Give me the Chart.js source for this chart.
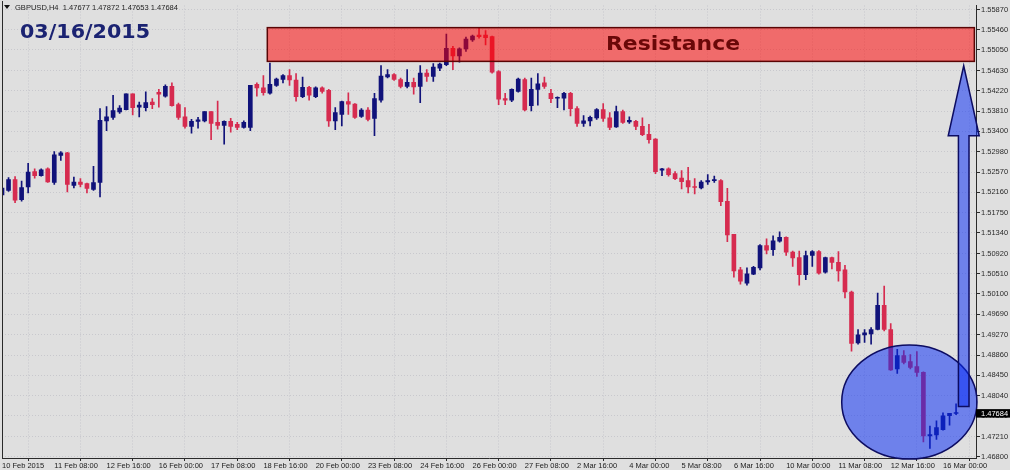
<!DOCTYPE html>
<html>
<head>
<meta charset="utf-8">
<title>GBPUSD H4</title>
<script src="https://cdn.jsdelivr.net/npm/chart.js@4.4.1/dist/chart.umd.min.js"></script>
<style>
    html, body { margin: 0; padding: 0; background: #dfdfdf; }
    #wrap { width: 1010px; height: 470px; }
</style>
</head>
<body>
<div id="wrap"><canvas id="priceChart" width="1010" height="470"></canvas></div>
<script>
        // GBPUSD H4 candles, 10 Feb 2015 00:00 -> 16 Mar 2015 08:00
        const symbolName = 'GBPUSD,H4';
        const chartDate = '03/16/2015';
        const zoneLabel = 'Resistance';

        const opens = [
            1.5211, 1.5220, 1.5242, 1.5201, 1.5227, 1.5258, 1.5250, 1.5264, 1.5236, 1.5291,
            1.5296, 1.5230, 1.5237, 1.5234, 1.5222, 1.5236, 1.5361, 1.5368, 1.5379, 1.5384,
            1.5416, 1.5389, 1.5388, 1.5399, 1.5419, 1.5411, 1.5431, 1.5394, 1.5369, 1.5350,
            1.5360, 1.5361, 1.5380, 1.5358, 1.5352, 1.5360, 1.5354, 1.5348, 1.5348, 1.5435,
            1.5428, 1.5417, 1.5433, 1.5445, 1.5453, 1.5444, 1.5410, 1.5429, 1.5410, 1.5428,
            1.5423, 1.5361, 1.5374, 1.5400, 1.5395, 1.5370, 1.5383, 1.5366, 1.5403, 1.5450,
            1.5455, 1.5445, 1.5431, 1.5439, 1.5431, 1.5458, 1.5451, 1.5468, 1.5475, 1.5508,
            1.5493, 1.5507, 1.5525, 1.5535, 1.5535, 1.5532, 1.5461, 1.5406, 1.5403, 1.5421,
            1.5445, 1.5392, 1.5425, 1.5438, 1.5417, 1.5407, 1.5407, 1.5417, 1.5386, 1.5356,
            1.5361, 1.5367, 1.5384, 1.5367, 1.5349, 1.5380, 1.5359, 1.5360, 1.5350, 1.5334,
            1.5324, 1.5261, 1.5264, 1.5254, 1.5245, 1.5240, 1.5228, 1.5225, 1.5237, 1.5240,
            1.5240, 1.5198, 1.5131, 1.5059, 1.5032, 1.5050, 1.5063, 1.5108, 1.5100, 1.5117,
            1.5125, 1.5095, 1.5084, 1.5049, 1.5088, 1.5096, 1.5054, 1.5084, 1.5074, 1.5059,
            1.5014, 1.4911, 1.4927, 1.4929, 1.4938, 1.4987, 1.4938, 1.4858, 1.4885, 1.4873,
            1.4863, 1.4851, 1.4722, 1.4724, 1.4735, 1.4763, 1.47677
        ];

        const highs = [
            1.5227, 1.5246, 1.5248, 1.5239, 1.5275, 1.5264, 1.5264, 1.5266, 1.5299, 1.5299,
            1.5297, 1.5247, 1.5244, 1.5235, 1.5269, 1.5386, 1.5390, 1.5413, 1.5392, 1.5416,
            1.5416, 1.5399, 1.5420, 1.5406, 1.5425, 1.5434, 1.5438, 1.5397, 1.5388, 1.5364,
            1.5368, 1.5380, 1.5380, 1.5401, 1.5361, 1.5366, 1.5358, 1.5361, 1.5433, 1.5438,
            1.5453, 1.5478, 1.5448, 1.5455, 1.5465, 1.5457, 1.5450, 1.5431, 1.5430, 1.5430,
            1.5425, 1.5388, 1.5401, 1.5418, 1.5396, 1.5386, 1.5388, 1.5417, 1.5473, 1.5465,
            1.5457, 1.5448, 1.5465, 1.5448, 1.5473, 1.5465, 1.5477, 1.5478, 1.5537, 1.5512,
            1.5509, 1.5531, 1.5535, 1.5549, 1.5544, 1.5533, 1.5463, 1.5417, 1.5426, 1.5448,
            1.5448, 1.5448, 1.5457, 1.5450, 1.5425, 1.5410, 1.5419, 1.5419, 1.5390, 1.5372,
            1.5371, 1.5386, 1.5396, 1.5378, 1.5391, 1.5383, 1.5369, 1.5362, 1.5367, 1.5354,
            1.5325, 1.5265, 1.5266, 1.5258, 1.5260, 1.5267, 1.5244, 1.5240, 1.5252, 1.5249,
            1.5242, 1.5224, 1.5131, 1.5064, 1.5063, 1.5066, 1.5110, 1.5122, 1.5128, 1.5136,
            1.5126, 1.5097, 1.5097, 1.5097, 1.5098, 1.5098, 1.5085, 1.5085, 1.5096, 1.5068,
            1.5016, 1.4938, 1.4938, 1.4942, 1.5012, 1.5026, 1.4950, 1.4898, 1.4895, 1.4887,
            1.4893, 1.4852, 1.4742, 1.4753, 1.4769, 1.4768, 1.47872
        ];

        const lows = [
            1.5210, 1.5218, 1.5195, 1.5198, 1.5215, 1.5245, 1.5249, 1.5236, 1.5232, 1.5281,
            1.5217, 1.5225, 1.5227, 1.5215, 1.5220, 1.5207, 1.5341, 1.5364, 1.5376, 1.5383,
            1.5373, 1.5369, 1.5381, 1.5386, 1.5389, 1.5409, 1.5391, 1.5364, 1.5346, 1.5336,
            1.5346, 1.5359, 1.5323, 1.5344, 1.5314, 1.5338, 1.5343, 1.5346, 1.5341, 1.5411,
            1.5413, 1.5415, 1.5431, 1.5438, 1.5433, 1.5401, 1.5408, 1.5403, 1.5408, 1.5417,
            1.5350, 1.5343, 1.5351, 1.5374, 1.5366, 1.5368, 1.5361, 1.5331, 1.5399, 1.5448,
            1.5443, 1.5428, 1.5428, 1.5415, 1.5398, 1.5441, 1.5441, 1.5463, 1.5473, 1.5465,
            1.5480, 1.5502, 1.5522, 1.5529, 1.5515, 1.5458, 1.5394, 1.5394, 1.5400, 1.5419,
            1.5381, 1.5381, 1.5393, 1.5427, 1.5398, 1.5388, 1.5383, 1.5371, 1.5350, 1.5350,
            1.5351, 1.5364, 1.5360, 1.5343, 1.5348, 1.5356, 1.5356, 1.5343, 1.5331, 1.5316,
            1.5254, 1.5250, 1.5249, 1.5242, 1.5223, 1.5215, 1.5213, 1.5223, 1.5232, 1.5236,
            1.5189, 1.5116, 1.5044, 1.5030, 1.5028, 1.5049, 1.5059, 1.5091, 1.5088, 1.5115,
            1.5088, 1.5066, 1.5028, 1.5039, 1.5066, 1.5050, 1.5052, 1.5061, 1.5036, 1.5002,
            1.4894, 1.4908, 1.4912, 1.4908, 1.4937, 1.4935, 1.4855, 1.4849, 1.4868, 1.4858,
            1.4843, 1.4710, 1.4697, 1.4715, 1.4734, 1.4744, 1.47653
        ];

        const closes = [
            1.5225, 1.5242, 1.5200, 1.5226, 1.5257, 1.5250, 1.5262, 1.5237, 1.5292, 1.5296,
            1.5232, 1.5237, 1.5232, 1.5224, 1.5236, 1.5362, 1.5369, 1.5382, 1.5387, 1.5416,
            1.5388, 1.5393, 1.5398, 1.5394, 1.5415, 1.5431, 1.5392, 1.5368, 1.5350, 1.5360,
            1.5363, 1.5380, 1.5356, 1.5352, 1.5360, 1.5350, 1.5348, 1.5358, 1.5433, 1.5428,
            1.5418, 1.5435, 1.5446, 1.5453, 1.5444, 1.5410, 1.5429, 1.5413, 1.5428, 1.5421,
            1.5361, 1.5378, 1.5400, 1.5395, 1.5368, 1.5383, 1.5364, 1.5406, 1.5452, 1.5455,
            1.5445, 1.5431, 1.5439, 1.5430, 1.5458, 1.5451, 1.5470, 1.5476, 1.5508, 1.5493,
            1.5507, 1.5527, 1.5533, 1.5532, 1.5530, 1.5460, 1.5405, 1.5403, 1.5425, 1.5446,
            1.5383, 1.5425, 1.5436, 1.5431, 1.5406, 1.5409, 1.5417, 1.5386, 1.5356, 1.5361,
            1.5368, 1.5384, 1.5366, 1.5348, 1.5380, 1.5358, 1.5362, 1.5350, 1.5333, 1.5323,
            1.5258, 1.5264, 1.5252, 1.5244, 1.5238, 1.5227, 1.5226, 1.5237, 1.5240, 1.5242,
            1.5197, 1.5130, 1.5057, 1.5036, 1.5051, 1.5064, 1.5108, 1.5099, 1.5118, 1.5125,
            1.5095, 1.5083, 1.5049, 1.5088, 1.5096, 1.5052, 1.5084, 1.5074, 1.5057, 1.5014,
            1.4910, 1.4927, 1.4931, 1.4938, 1.4987, 1.4938, 1.4856, 1.4885, 1.4871, 1.4861,
            1.4851, 1.4722, 1.4725, 1.4739, 1.4763, 1.4768, 1.47684
        ];

        // time axis: one label every 8 bars
        const timeLabels = [
            '10 Feb 2015', '11 Feb 08:00', '12 Feb 16:00', '16 Feb 00:00', '17 Feb 08:00',
            '18 Feb 16:00', '20 Feb 00:00', '23 Feb 08:00', '24 Feb 16:00', '26 Feb 00:00',
            '27 Feb 08:00', '2 Mar 16:00', '4 Mar 00:00', '5 Mar 08:00', '6 Mar 16:00',
            '10 Mar 00:00', '11 Mar 08:00', '12 Mar 16:00', '16 Mar 00:00'
        ];
        const barsPerLabel = 8;

        const priceTicks = [
            1.5587, 1.5546, 1.5505, 1.5463, 1.5422, 1.5381, 1.5340, 1.5298, 1.5257, 1.5216,
            1.5175, 1.5134, 1.5092, 1.5051, 1.5010, 1.4969, 1.4927, 1.4886, 1.4845, 1.4804,
            1.4763, 1.4721, 1.4680
        ];

        // Colores
        const bullColor = '#10127a';
        const bearColor = '#d62b4f';
        const gridColor = 'rgba(150, 150, 165, 0.3)';
        const axisColor = '#2a2a2a';
        const tickFont = { family: '"Liberation Sans", Arial, sans-serif', size: 7.5 };

        const candleColors = closes.map((c, i) => c >= opens[i] ? bullColor : bearColor);
        const bodyData = opens.map((o, i) => ({ x: i, y: [o, closes[i]] }));
        const wickData = lows.map((l, i) => ({ x: i, y: [l, highs[i]] }));
        const last = closes.length - 1;

        function fitText(ctx, text, x, baseline, width, font, color) {
            ctx.save();
            ctx.font = font;
            const w = ctx.measureText(text).width;
            ctx.translate(x, baseline);
            ctx.scale(width / w, 1);
            ctx.fillStyle = color;
            ctx.textAlign = 'left';
            ctx.textBaseline = 'alphabetic';
            ctx.fillText(text, 0, 0);
            ctx.restore();
        }

        // fondo, marco, zona, elipse, flecha y textos
        const overlayPlugin = {
            id: 'overlays',
            beforeDraw(chart) {
                const ctx = chart.ctx;
                ctx.save();
                ctx.fillStyle = '#dfdfdf';
                ctx.fillRect(0, 0, chart.width, chart.height);
                ctx.restore();
            },
            afterDraw(chart) {
                const ctx = chart.ctx;
                const xs = chart.scales.x;
                const ys = chart.scales.y;
                const area = chart.chartArea;

                ctx.save();
                // left frame
                ctx.strokeStyle = axisColor;
                ctx.lineWidth = 1;
                ctx.beginPath();
                ctx.moveTo(area.left + 0.5, 1);
                ctx.lineTo(area.left + 0.5, area.bottom);
                ctx.stroke();

                // resistance zone
                const zx1 = xs.getPixelForValue(40.6);
                const zx2 = xs.getPixelForValue(148.8);
                const zy1 = ys.getPixelForValue(1.55501);
                const zy2 = ys.getPixelForValue(1.54817);
                ctx.fillStyle = 'rgba(255, 0, 0, 0.52)';
                ctx.fillRect(zx1, zy1, zx2 - zx1, zy2 - zy1);
                ctx.strokeStyle = '#5a0505';
                ctx.lineWidth = 1.5;
                ctx.strokeRect(zx1, zy1, zx2 - zx1, zy2 - zy1);
                fitText(ctx, zoneLabel, 606, 49.5, 134, 'bold 20px "DejaVu Sans"', '#6a0808');

                // ellipse round the last bars
                const ex1 = xs.getPixelForValue(128.5);
                const ex2 = xs.getPixelForValue(149.2);
                const ey1 = ys.getPixelForValue(1.49067);
                const ey2 = ys.getPixelForValue(1.46753);
                ctx.beginPath();
                ctx.ellipse((ex1 + ex2) / 2, (ey1 + ey2) / 2, (ex2 - ex1) / 2, (ey2 - ey1) / 2, 0, 0, Math.PI * 2);
                ctx.fillStyle = 'rgba(10, 45, 245, 0.53)';
                ctx.fill();
                ctx.strokeStyle = '#0c0c62';
                ctx.lineWidth = 1.5;
                ctx.stroke();

                // arrow up to the zone
                const ax = xs.getPixelForValue(147.17);
                const aBottom = ys.getPixelForValue(1.47819);
                const aBase = ys.getPixelForValue(1.53308);
                const aTip = ys.getPixelForValue(1.54728);
                const sw = 5.3, hw = 15.5;
                ctx.beginPath();
                ctx.moveTo(ax - sw, aBottom);
                ctx.lineTo(ax - sw, aBase);
                ctx.lineTo(ax - hw, aBase);
                ctx.lineTo(ax, aTip);
                ctx.lineTo(ax + hw, aBase);
                ctx.lineTo(ax + sw, aBase);
                ctx.lineTo(ax + sw, aBottom);
                ctx.closePath();
                ctx.fillStyle = 'rgba(10, 45, 245, 0.53)';
                ctx.fill();
                ctx.strokeStyle = '#0c0c62';
                ctx.lineWidth = 1.5;
                ctx.stroke();

                // last price tag
                const py = ys.getPixelForValue(closes[last]);
                ctx.fillStyle = '#000000';
                ctx.fillRect(area.right, py - 4, chart.width - area.right, 8.5);
                ctx.fillStyle = '#ffffff';
                ctx.font = '7.5px "Liberation Sans", Arial, sans-serif';
                ctx.textBaseline = 'middle';
                ctx.textAlign = 'left';
                ctx.fillText(closes[last].toFixed(5), area.right + 5, py + 0.5);

                // header
                ctx.fillStyle = '#111111';
                ctx.beginPath();
                ctx.moveTo(4, 5);
                ctx.lineTo(10, 5);
                ctx.lineTo(7, 9);
                ctx.closePath();
                ctx.fill();
                const header = symbolName + '  ' + [opens[last], highs[last], lows[last], closes[last]]
                    .map(v => v.toFixed(5)).join(' ');
                fitText(ctx, header, 15, 10, 163, '7.5px "Liberation Sans", Arial, sans-serif', '#1e1e1e');

                // date title
                fitText(ctx, chartDate, 20, 37.5, 130, 'bold 20px "DejaVu Sans"', '#1b2372');
                ctx.restore();
            }
        };

        const priceCtx = document.getElementById('priceChart').getContext('2d');
        const priceChart = new Chart(priceCtx, {
            type: 'bar',
            data: {
                datasets: [
                    {
                        label: 'body',
                        data: bodyData,
                        backgroundColor: candleColors,
                        barThickness: 4,
                        minBarLength: 1,
                        grouped: false
                    },
                    {
                        label: 'wick',
                        data: wickData,
                        backgroundColor: candleColors,
                        barThickness: 1,
                        grouped: false
                    }
                ]
            },
            options: {
                responsive: false,
                animation: false,
                devicePixelRatio: 1,
                layout: { padding: { top: 2, left: 2, right: 0, bottom: 0 } },
                plugins: {
                    legend: { display: false },
                    tooltip: { enabled: false }
                },
                scales: {
                    x: {
                        type: 'linear',
                        min: 0,
                        max: 149.05,
                        offset: false,
                        afterBuildTicks: function(scale) {
                            scale.ticks = timeLabels.map((t, k) => ({ value: k * barsPerLabel }));
                        },
                        afterFit: function(scale) {
                            scale.height = 12;
                        },
                        ticks: {
                            autoSkip: false,
                            maxRotation: 0,
                            minRotation: 0,
                            align: 'start',
                            padding: 0,
                            color: '#1a1a1a',
                            font: tickFont,
                            callback: function(value, index) {
                                return timeLabels[index];
                            }
                        },
                        grid: {
                            color: gridColor,
                            tickColor: axisColor,
                            tickLength: 3
                        },
                        border: { display: true, color: axisColor, width: 1, dash: [1, 2] }
                    },
                    y: {
                        position: 'right',
                        min: 1.46774,
                        max: 1.5595,
                        afterBuildTicks: function(scale) {
                            scale.ticks = priceTicks.map(v => ({ value: v }));
                        },
                        afterFit: function(scale) {
                            scale.width = 34;
                        },
                        ticks: {
                            padding: 1,
                            color: '#2a2a2a',
                            font: tickFont,
                            callback: function(value) {
                                return value.toFixed(5);
                            }
                        },
                        grid: {
                            color: gridColor,
                            tickColor: axisColor,
                            tickLength: 4
                        },
                        border: { display: true, color: axisColor, width: 1, dash: [1, 2] }
                    }
                }
            },
            plugins: [overlayPlugin]
        });
</script>
</body>
</html>
